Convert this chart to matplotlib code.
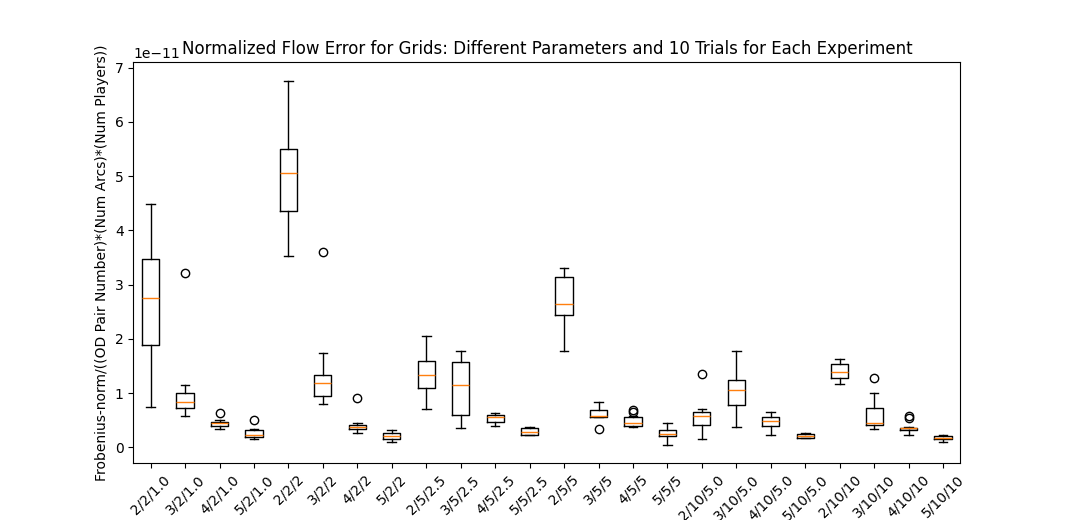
import matplotlib
matplotlib.use("Agg")
import matplotlib.pyplot as plt

labels = ["2/2/1.0", "3/2/1.0", "4/2/1.0", "5/2/1.0", "2/2/2", "3/2/2", "4/2/2", "5/2/2",
          "2/5/2.5", "3/5/2.5", "4/5/2.5", "5/5/2.5", "2/5/5", "3/5/5", "4/5/5", "5/5/5",
          "2/10/5.0", "3/10/5.0", "4/10/5.0", "5/10/5.0", "2/10/10", "3/10/10", "4/10/10", "5/10/10"]

# values in units of 1e-11
whislo = [0.75, 0.58, 0.34, 0.16, 3.53, 0.80, 0.27, 0.10,
          0.71, 0.36, 0.40, 0.22, 1.78, 0.55, 0.38, 0.05,
          0.16, 0.37, 0.23, 0.18, 1.17, 0.33, 0.23, 0.10]
q1 = [1.88, 0.73, 0.40, 0.19, 4.36, 0.95, 0.34, 0.15,
      1.10, 0.59, 0.47, 0.23, 2.43, 0.55, 0.40, 0.20,
      0.41, 0.78, 0.39, 0.18, 1.27, 0.42, 0.31, 0.15]
med = [2.76, 0.84, 0.44, 0.23, 5.06, 1.19, 0.38, 0.20,
       1.34, 1.14, 0.56, 0.29, 2.65, 0.57, 0.44, 0.25,
       0.57, 1.05, 0.49, 0.21, 1.39, 0.45, 0.35, 0.17]
q3 = [3.47, 1.01, 0.47, 0.31, 5.50, 1.34, 0.42, 0.27,
      1.60, 1.58, 0.60, 0.36, 3.14, 0.68, 0.55, 0.32,
      0.66, 1.25, 0.55, 0.24, 1.54, 0.72, 0.36, 0.21]
whishi = [4.49, 1.14, 0.51, 0.34, 6.76, 1.74, 0.44, 0.31,
          2.06, 1.77, 0.64, 0.38, 3.31, 0.84, 0.58, 0.44,
          0.70, 1.78, 0.66, 0.27, 1.63, 1.01, 0.37, 0.22]
fliers = [[], [3.22], [0.64], [0.50], [], [3.60], [0.90], [],
          [], [], [], [], [], [0.33], [0.65, 0.68], [],
          [1.36], [], [], [], [], [1.28], [0.54, 0.58], []]

scale = 1e-11
stats = []
for i, lab in enumerate(labels):
    stats.append(dict(label=lab, whislo=whislo[i] * scale, q1=q1[i] * scale,
                      med=med[i] * scale, q3=q3[i] * scale, whishi=whishi[i] * scale,
                      fliers=[f * scale for f in fliers[i]]))

fig, ax = plt.subplots(figsize=(10.67, 5.2), dpi=100)
ax.bxp(stats)
ax.set_title("Normalized Flow Error for Grids: Different Parameters and 10 Trials for Each Experiment")
ax.set_ylabel("Frobenius-norm/((OD Pair Number)*(Num Arcs)*(Num Players))")
plt.setp(ax.get_xticklabels(), rotation=45)
fig.savefig("out.png", dpi=100)
